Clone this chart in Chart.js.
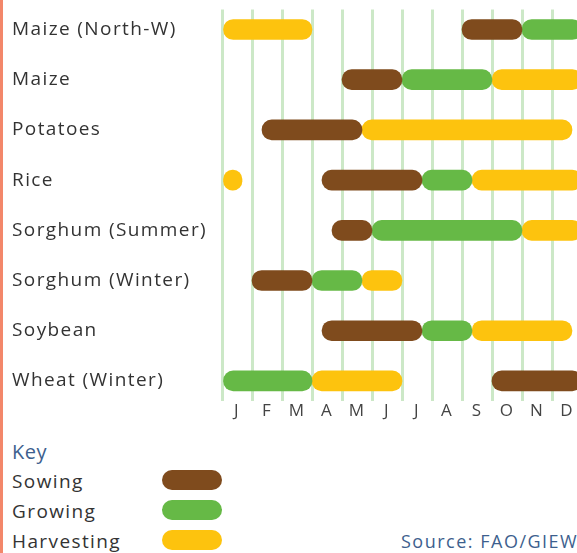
<!DOCTYPE html>
<html>
<head>
<meta charset="utf-8">
<script src="https://cdn.jsdelivr.net/npm/chart.js@4/dist/chart.umd.min.js"></script>
<style>
  html, body { margin: 0; padding: 0; background: #fff; overflow: hidden; }
  #page { position: relative; width: 577px; height: 553px; overflow: hidden; font-family: "Open Sans", sans-serif; }
  #edge { position: absolute; left: 0; top: 0; width: 3px; height: 553px; background: #f3876a; }
  #wrap { position: absolute; left: 0; top: -5px; width: 600px; height: 429px; }
  .txt { position: absolute; white-space: nowrap; letter-spacing: 1.4px; color: #333; font-size: 19px; line-height: 24px; }
  .key { color: #3d5f8e; font-size: 20px; letter-spacing: 0.5px; }
  .src { color: #3d5f8e; font-size: 18px; letter-spacing: 1.5px; }
  .pill { position: absolute; width: 60px; height: 20px; border-radius: 10px; }
</style>
</head>
<body>
<div id="page">
  <div id="wrap"><canvas id="calendar"></canvas></div>
  <div id="edge"></div>
  <div id="legend"></div>
  <div class="txt src" style="left:401px; top:529px;">Source: FAO/GIEWS</div>
</div>
<script>
// crop calendar, positions in dekads (10-day periods), 0 = 1 Jan, 36 = 31 Dec
const crops = ['Maize (North-W)', 'Maize', 'Potatoes', 'Rice', 'Sorghum (Summer)', 'Sorghum (Winter)', 'Soybean', 'Wheat (Winter)'];
const months = ['J', 'F', 'M', 'A', 'M', 'J', 'J', 'A', 'S', 'O', 'N', 'D'];

const sowing = [[24, 30], [12, 18], [4, 14], [10, 20], [11, 15], [3, 9], [10, 20], [27, 36]];
const growing = [[30, 36], [18, 27], null, [20, 25], [15, 30], [9, 14], [20, 25], [0, 9]];
const harvesting = [[0, 9], [27, 36], [14, 35], [25, 36], [30, 36], [14, 18], [25, 35], [9, 18]];
const harvestingEarly = [null, null, null, [0, 2], null, null, null, null];

const BROWN = '#7f4b1d';
const GREEN = '#66b946';
const YELLOW = '#fdc30e';

// one floating bar per crop row; rows without that stage are left out
function stage(label, spans, color) {
  return {
    label,
    data: spans.map((s, i) => s && { x: s, y: i }).filter(Boolean),
    backgroundColor: color,
    borderSkipped: false,
    borderRadius: 10,
    barThickness: 20,
    grouped: false
  };
}

// canvas text gets the same light tracking as the html labels
const tracking = {
  id: 'tracking',
  beforeDraw(chart) { chart.ctx.letterSpacing = '1.4px'; }
};

new Chart(document.getElementById('calendar'), {
  type: 'bar',
  data: {
    datasets: [
      stage('Sowing', sowing, BROWN),
      stage('Growing', growing, GREEN),
      stage('Harvesting', harvesting, YELLOW),
      stage('Harvesting', harvestingEarly, YELLOW)
    ]
  },
  options: {
    indexAxis: 'y',
    responsive: true,
    maintainAspectRatio: false,
    animation: false,
    layout: { padding: { left: 12, right: 18, top: 9, bottom: 0 } },
    plugins: { legend: { display: false }, tooltip: { enabled: false } },
    scales: {
      x: {
        type: 'linear',
        min: 0,
        max: 36,
        z: 1,
        border: { display: false },
        grid: { color: 'rgba(110,190,95,0.35)', lineWidth: 3, drawTicks: false },
        afterFit(scale) { scale.height = 23; },
        ticks: {
          stepSize: 3,
          autoSkip: false,
          maxRotation: 0,
          labelOffset: 15,
          padding: 0,
          color: '#444',
          font: { family: 'Open Sans', size: 17 },
          callback: (v) => months[v / 3] || ''
        }
      },
      y: {
        type: 'linear',
        reverse: true,
        min: -0.4,
        max: 7.4,
        offset: false,
        border: { display: false },
        grid: { display: false, offset: false },
        afterFit(scale) { scale.width = 210; },
        ticks: {
          stepSize: 1,
          includeBounds: false,
          autoSkip: false,
          crossAlign: 'far',
          color: '#333',
          font: { family: 'Open Sans', size: 19 },
          callback: (v) => crops[v] || ''
        }
      }
    }
  },
  plugins: [tracking]
});

// key below the chart
const legendItems = [['Sowing', BROWN], ['Growing', GREEN], ['Harvesting', YELLOW]];
const legend = document.getElementById('legend');
legend.innerHTML = '<div class="txt key" style="left:12px; top:440px;">Key</div>' +
  legendItems.map(([name, color], i) =>
    `<div class="txt" style="left:12px; top:${469 + i * 30}px;">${name}</div>` +
    `<div class="pill" style="left:162px; top:${470 + i * 30}px; background:${color};"></div>`
  ).join('');
</script>
</body>
</html>
